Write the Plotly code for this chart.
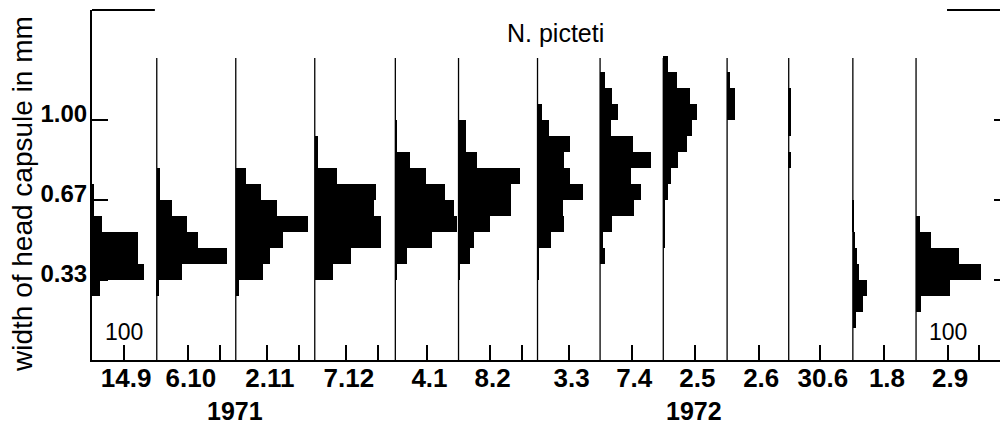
import plotly.graph_objects as go

# ---------------- data ----------------
dates = ["14.9", "6.10", "2.11", "7.12", "4.1", "8.2", "3.3",
         "7.4", "2.5", "2.6", "30.6", "1.8", "2.9"]
years = ["1971", "1972"]

# size classes of head-capsule width (mm): class k spans k/15 .. (k+1)/15
class_index = list(range(2, 19))

# numbers per size class (k = 2 ... 18) for each sampling date
n_14_9 = [0, 0, 25, 166, 145, 145, 32, 6, 6, 0, 0, 0, 0, 0, 0, 0, 0]
n_6_10 = [0, 0, 6, 79, 221, 130, 95, 49, 9, 9, 0, 0, 0, 0, 0, 0, 0]
n_2_11 = [0, 0, 9, 87, 107, 150, 229, 130, 79, 32, 0, 0, 0, 0, 0, 0, 0]
n_7_12 = [0, 0, 0, 58, 116, 209, 209, 186, 195, 69, 9, 9, 0, 0, 0, 0, 0]
n_4_1 = [0, 0, 0, 5, 36, 117, 194, 187, 157, 98, 45, 5, 5, 0, 0, 0, 0]
n_8_2 = [0, 0, 0, 5, 37, 49, 100, 167, 167, 195, 60, 23, 23, 0, 0, 0, 0]
n_3_3 = [0, 0, 0, 3, 5, 43, 85, 81, 145, 104, 84, 104, 36, 13, 0, 0, 0]
n_7_4 = [0, 0, 0, 0, 17, 8, 37, 107, 131, 97, 160, 104, 34, 57, 39, 15, 0]
n_2_5 = [0, 0, 0, 0, 0, 3, 3, 5, 14, 26, 47, 76, 90, 106, 84, 42, 14]
n_2_6 = [0, 0, 0, 0, 0, 0, 0, 0, 0, 0, 0, 0, 0, 26, 26, 9, 0]
n_30_6 = [0, 0, 0, 0, 0, 0, 0, 0, 0, 0, 6, 0, 6, 6, 6, 0, 0]
n_1_8 = [9, 32, 44, 18, 13, 7, 4, 3, 0, 0, 0, 0, 0, 0, 0, 0, 0]
n_2_9 = [0, 17, 107, 204, 137, 47, 11, 0, 0, 0, 0, 0, 0, 0, 0, 0, 0]

ytick_vals = [1 / 3, 2 / 3, 1.0]
ytick_text = ["0.33", "0.67", "1.00"]
scale_label = "100"

# ---------------- layout constants ----------------
series = [n_14_9, n_6_10, n_2_11, n_7_12, n_4_1, n_8_2, n_3_3,
          n_7_4, n_2_5, n_2_6, n_30_6, n_1_8, n_2_9]
panel_base = [0, 205, 455, 705, 960, 1160, 1410, 1608, 1808, 2010, 2205, 2408, 2608]
X_MAX = 2899
Y_MAX = 1.4583
PANEL_TOP = 1.258
scale_step = 100
label_shift = 108

BLACK = "#000000"
FONT = "Liberation Sans, Arial, Helvetica, sans-serif"

class_width = 1 / 15
class_mid = [(k + 0.5) / 15 for k in class_index]

fig = go.Figure()

for base, vals in zip(panel_base, series):
    fig.add_trace(go.Bar(
        y=class_mid, x=vals, base=base, orientation="h",
        width=class_width, marker=dict(color=BLACK, line=dict(width=0)),
        showlegend=False, hoverinfo="skip"))

# scale ticks inside each panel (every 100 units while room remains)
scale_ticks = []
for i, base in enumerate(panel_base):
    nxt = panel_base[i + 1] if i + 1 < len(panel_base) else X_MAX
    v = base + scale_step
    while v < nxt - 20:
        scale_ticks.append(v)
        v += scale_step

label_pos = [b + label_shift for b in panel_base]

# helper invisible traces so the extra axes render
fig.add_trace(go.Scatter(x=label_pos, y=[0] * len(label_pos), xaxis="x2", yaxis="y",
                         mode="markers", marker=dict(opacity=0), showlegend=False,
                         hoverinfo="skip"))
fig.add_trace(go.Scatter(x=[0], y=ytick_vals, xaxis="x", yaxis="y2",
                         mode="markers", marker=dict(opacity=0), showlegend=False,
                         hoverinfo="skip"))

# panel baselines
for base in panel_base[1:]:
    fig.add_shape(type="line", xref="x", yref="y", x0=base, x1=base, y0=0, y1=PANEL_TOP,
                  line=dict(color=BLACK, width=1.3))

# top brackets of the frame
fig.add_shape(type="line", xref="x", yref="paper", x0=0, x1=199, y0=1, y1=1,
              line=dict(color=BLACK, width=2))
fig.add_shape(type="line", xref="x", yref="paper", x0=2706, x1=X_MAX, y0=1, y1=1,
              line=dict(color=BLACK, width=2))

ann = []
ann.append(dict(text="N. picteti", x=1468, y=1.3625, xref="x", yref="y",
                showarrow=False, font=dict(family=FONT, size=25, color=BLACK)))
ann.append(dict(text="width of head capsule in mm", textangle=-90,
                x=(22 - 92) / 916, y=(360 - 194) / 350, xref="paper", yref="paper",
                xanchor="center", yanchor="middle", showarrow=False,
                font=dict(family=FONT, size=28, color=BLACK)))
for b in (panel_base[0], panel_base[-1]):
    ann.append(dict(text=scale_label, x=b + scale_step, y=0.117, xref="x", yref="y",
                    showarrow=False, font=dict(family=FONT, size=23, color=BLACK)))
for yr, xp in zip(years, (453, 1905)):
    ann.append(dict(text=yr, x=xp, y=(360 - 411) / 350, xref="x", yref="paper",
                    yanchor="middle", showarrow=False,
                    font=dict(family=FONT, size=25, color=BLACK, weight="bold")))

# the page body has an 8 px margin; the figure is sized to fill the rest of the window
fig.update_layout(
    width=1000, height=419,
    margin=dict(l=84, r=0, t=2, b=67, autoexpand=False),
    paper_bgcolor="white", plot_bgcolor="white",
    barmode="overlay", bargap=0,
    annotations=ann,
    xaxis=dict(range=[0, X_MAX], showgrid=False, zeroline=False, automargin=False,
               showline=True, linecolor=BLACK, linewidth=2,
               tickmode="array", tickvals=scale_ticks, ticks="inside",
               ticklen=15, tickwidth=2, tickcolor=BLACK, showticklabels=False),
    xaxis2=dict(range=[0, X_MAX], overlaying="x", side="bottom", anchor="y",
                automargin=False,
                showgrid=False, zeroline=False, showline=False, ticks="",
                tickmode="array", tickvals=label_pos, ticktext=dates,
                tickfont=dict(family=FONT, size=26, color=BLACK, weight="bold")),
    yaxis=dict(range=[0, Y_MAX], showgrid=False, zeroline=False, automargin=False,
               showline=True, linecolor=BLACK, linewidth=2,
               tickmode="array", tickvals=ytick_vals, ticktext=ytick_text,
               ticks="inside", ticklen=16, tickwidth=2, tickcolor=BLACK,
               ticklabelshift=-6, ticklabelstandoff=-2,
               tickfont=dict(family=FONT, size=24, color=BLACK, weight="bold")),
    yaxis2=dict(range=[0, Y_MAX], overlaying="y", side="right", anchor="x",
                automargin=False,
                showgrid=False, zeroline=False, showline=False,
                tickmode="array", tickvals=ytick_vals, ticks="inside",
                ticklen=14, tickwidth=2, tickcolor=BLACK, showticklabels=False),
)

fig.write_html("out.html")
